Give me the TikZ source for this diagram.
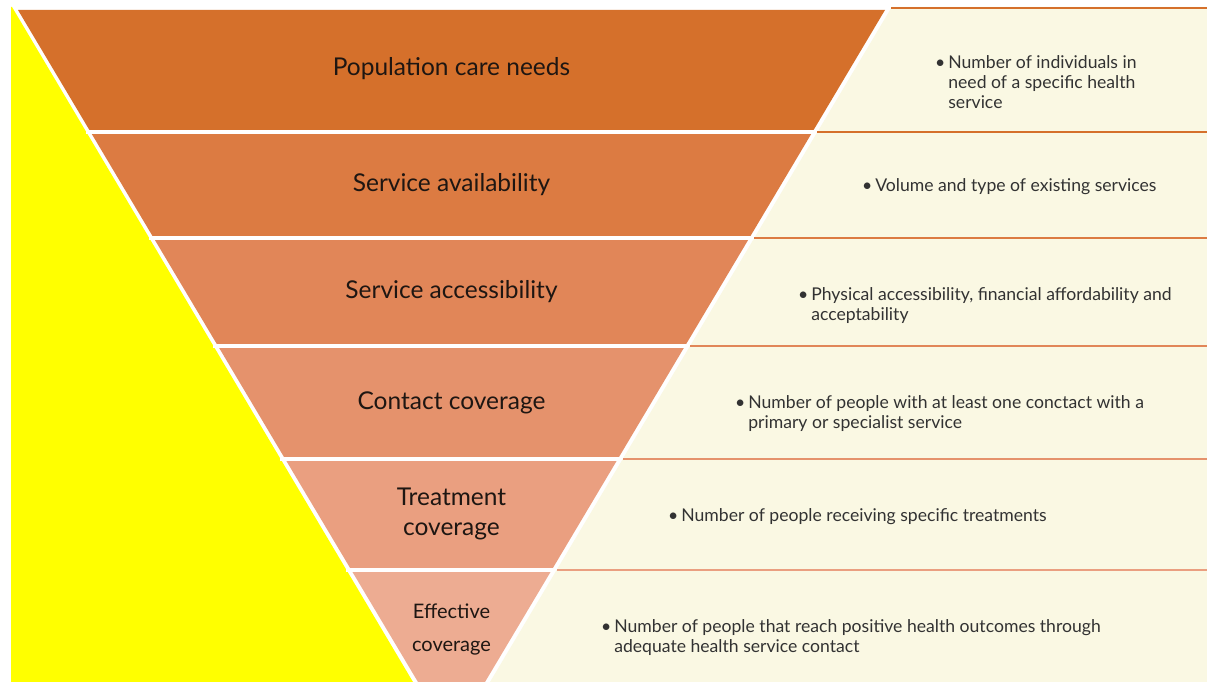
\documentclass[tikz,border=0pt]{standalone}
\usepackage{fontspec}
\setmainfont{Lato}
\usepackage{tikz}

\definecolor{bandA}{RGB}{213,112,43}
\definecolor{bandB}{RGB}{220,123,66}
\definecolor{bandC}{RGB}{225,134,88}
\definecolor{bandD}{RGB}{229,146,108}
\definecolor{bandE}{RGB}{234,159,128}
\definecolor{bandF}{RGB}{237,172,146}
\definecolor{cream}{RGB}{250,248,227}
\definecolor{sideyellow}{RGB}{255,255,0}
\definecolor{inkdark}{RGB}{30,22,18}
\definecolor{inkgray}{RGB}{50,50,50}

\tikzset{
	sepline/.style={white, line width=3.5pt},
	rowline/.style={line width=2pt},
	stage/.style={text=inkdark, align=center, font=\fontsize{24.5}{30}\selectfont},
	smallstage/.style={text=inkdark, align=center, font=\fontsize{20}{33}\selectfont},
	note/.style={text=inkgray, anchor=west, inner sep=0pt, font=\fontsize{17.6}{20}\selectfont}
}

\begin{document}
\begin{tikzpicture}[x=1pt,y=-1pt]
					\useasboundingbox (0,0) rectangle (1207,682);
					\fill [white] (0,0) rectangle (1207,682);

					\fill [sideyellow] (11,7) -- (12,7) -- (413,682) -- (11,682) -- cycle;
					\fill [cream] (891.8,7) -- (1207,7) -- (1207,682) -- (490,682) -- cycle;

					\fill [bandA] (18,10) -- (885,10) -- (812.4,132) -- (90.6,132) -- cycle;
					\fill [bandB] (90.6,132) -- (812.4,132) -- (749.3,238) -- (153.7,238) -- cycle;
					\fill [bandC] (153.7,238) -- (749.3,238) -- (685,346) -- (218,346) -- cycle;
					\fill [bandD] (218,346) -- (685,346) -- (617.8,459) -- (285.2,459) -- cycle;
					\fill [bandE] (285.2,459) -- (617.8,459) -- (551.7,570) -- (351.3,570) -- cycle;
					\fill [bandF] (351.3,570) -- (551.7,570) -- (485,682) -- (418,682) -- cycle;

					\draw [sepline] (86,132) -- (815,132);
					\draw [sepline] (149,238) -- (752,238);
					\draw [sepline] (213,346) -- (688,346);
					\draw [sepline] (280,459) -- (621,459);
					\draw [sepline] (346,570) -- (555,570);

					\draw [rowline, bandA] (891,8) -- (1207,8);
					\draw [rowline, bandA] (817,132) -- (1207,132);
					\draw [rowline, bandB] (754,238) -- (1207,238);
					\draw [rowline, bandC] (690,346) -- (1207,346);
					\draw [rowline, bandD] (623,459) -- (1207,459);
					\draw [rowline, bandE] (557,570) -- (1207,570);

					\node (pop) [stage] at (451.5,69) {Population care needs};
					\node (avail) [stage] at (451.5,185) {Service availability};
					\node (access) [stage] at (451.5,292) {Service accessibility};
					\node (contact) [stage] at (451.5,403) {Contact coverage};
					\node (treat) [stage] at (451.5,514) {Treatment\\coverage};
					\node (effect) [smallstage] at (451.5,629) {Effective\\coverage};

					\node (popnote) [note] at (935,85) {\begin{tabular}{@{}l@{\,}l@{}}\textbullet & Number of individuals in\\ & need of a specific health\\ & service\end{tabular}};
					\node (availnote) [note] at (862,187) {\begin{tabular}{@{}l@{\,}l@{}}\textbullet & Volume and type of existing services\end{tabular}};
					\node (accessnote) [note] at (798,306) {\begin{tabular}{@{}l@{\,}l@{}}\textbullet & Physical accessibility, financial affordability and\\ & acceptability\end{tabular}};
					\node (contactnote) [note] at (735,414) {\begin{tabular}{@{}l@{\,}l@{}}\textbullet & Number of people with at least one conctact with a\\ & primary or specialist service\end{tabular}};
					\node (treatnote) [note] at (668,517) {\begin{tabular}{@{}l@{\,}l@{}}\textbullet & Number of people receiving specific treatments\end{tabular}};
					\node (effectnote) [note] at (601,638) {\begin{tabular}{@{}l@{\,}l@{}}\textbullet & Number of people that reach positive health outcomes through\\ & adequate health service contact\end{tabular}};
\end{tikzpicture}
\end{document}
